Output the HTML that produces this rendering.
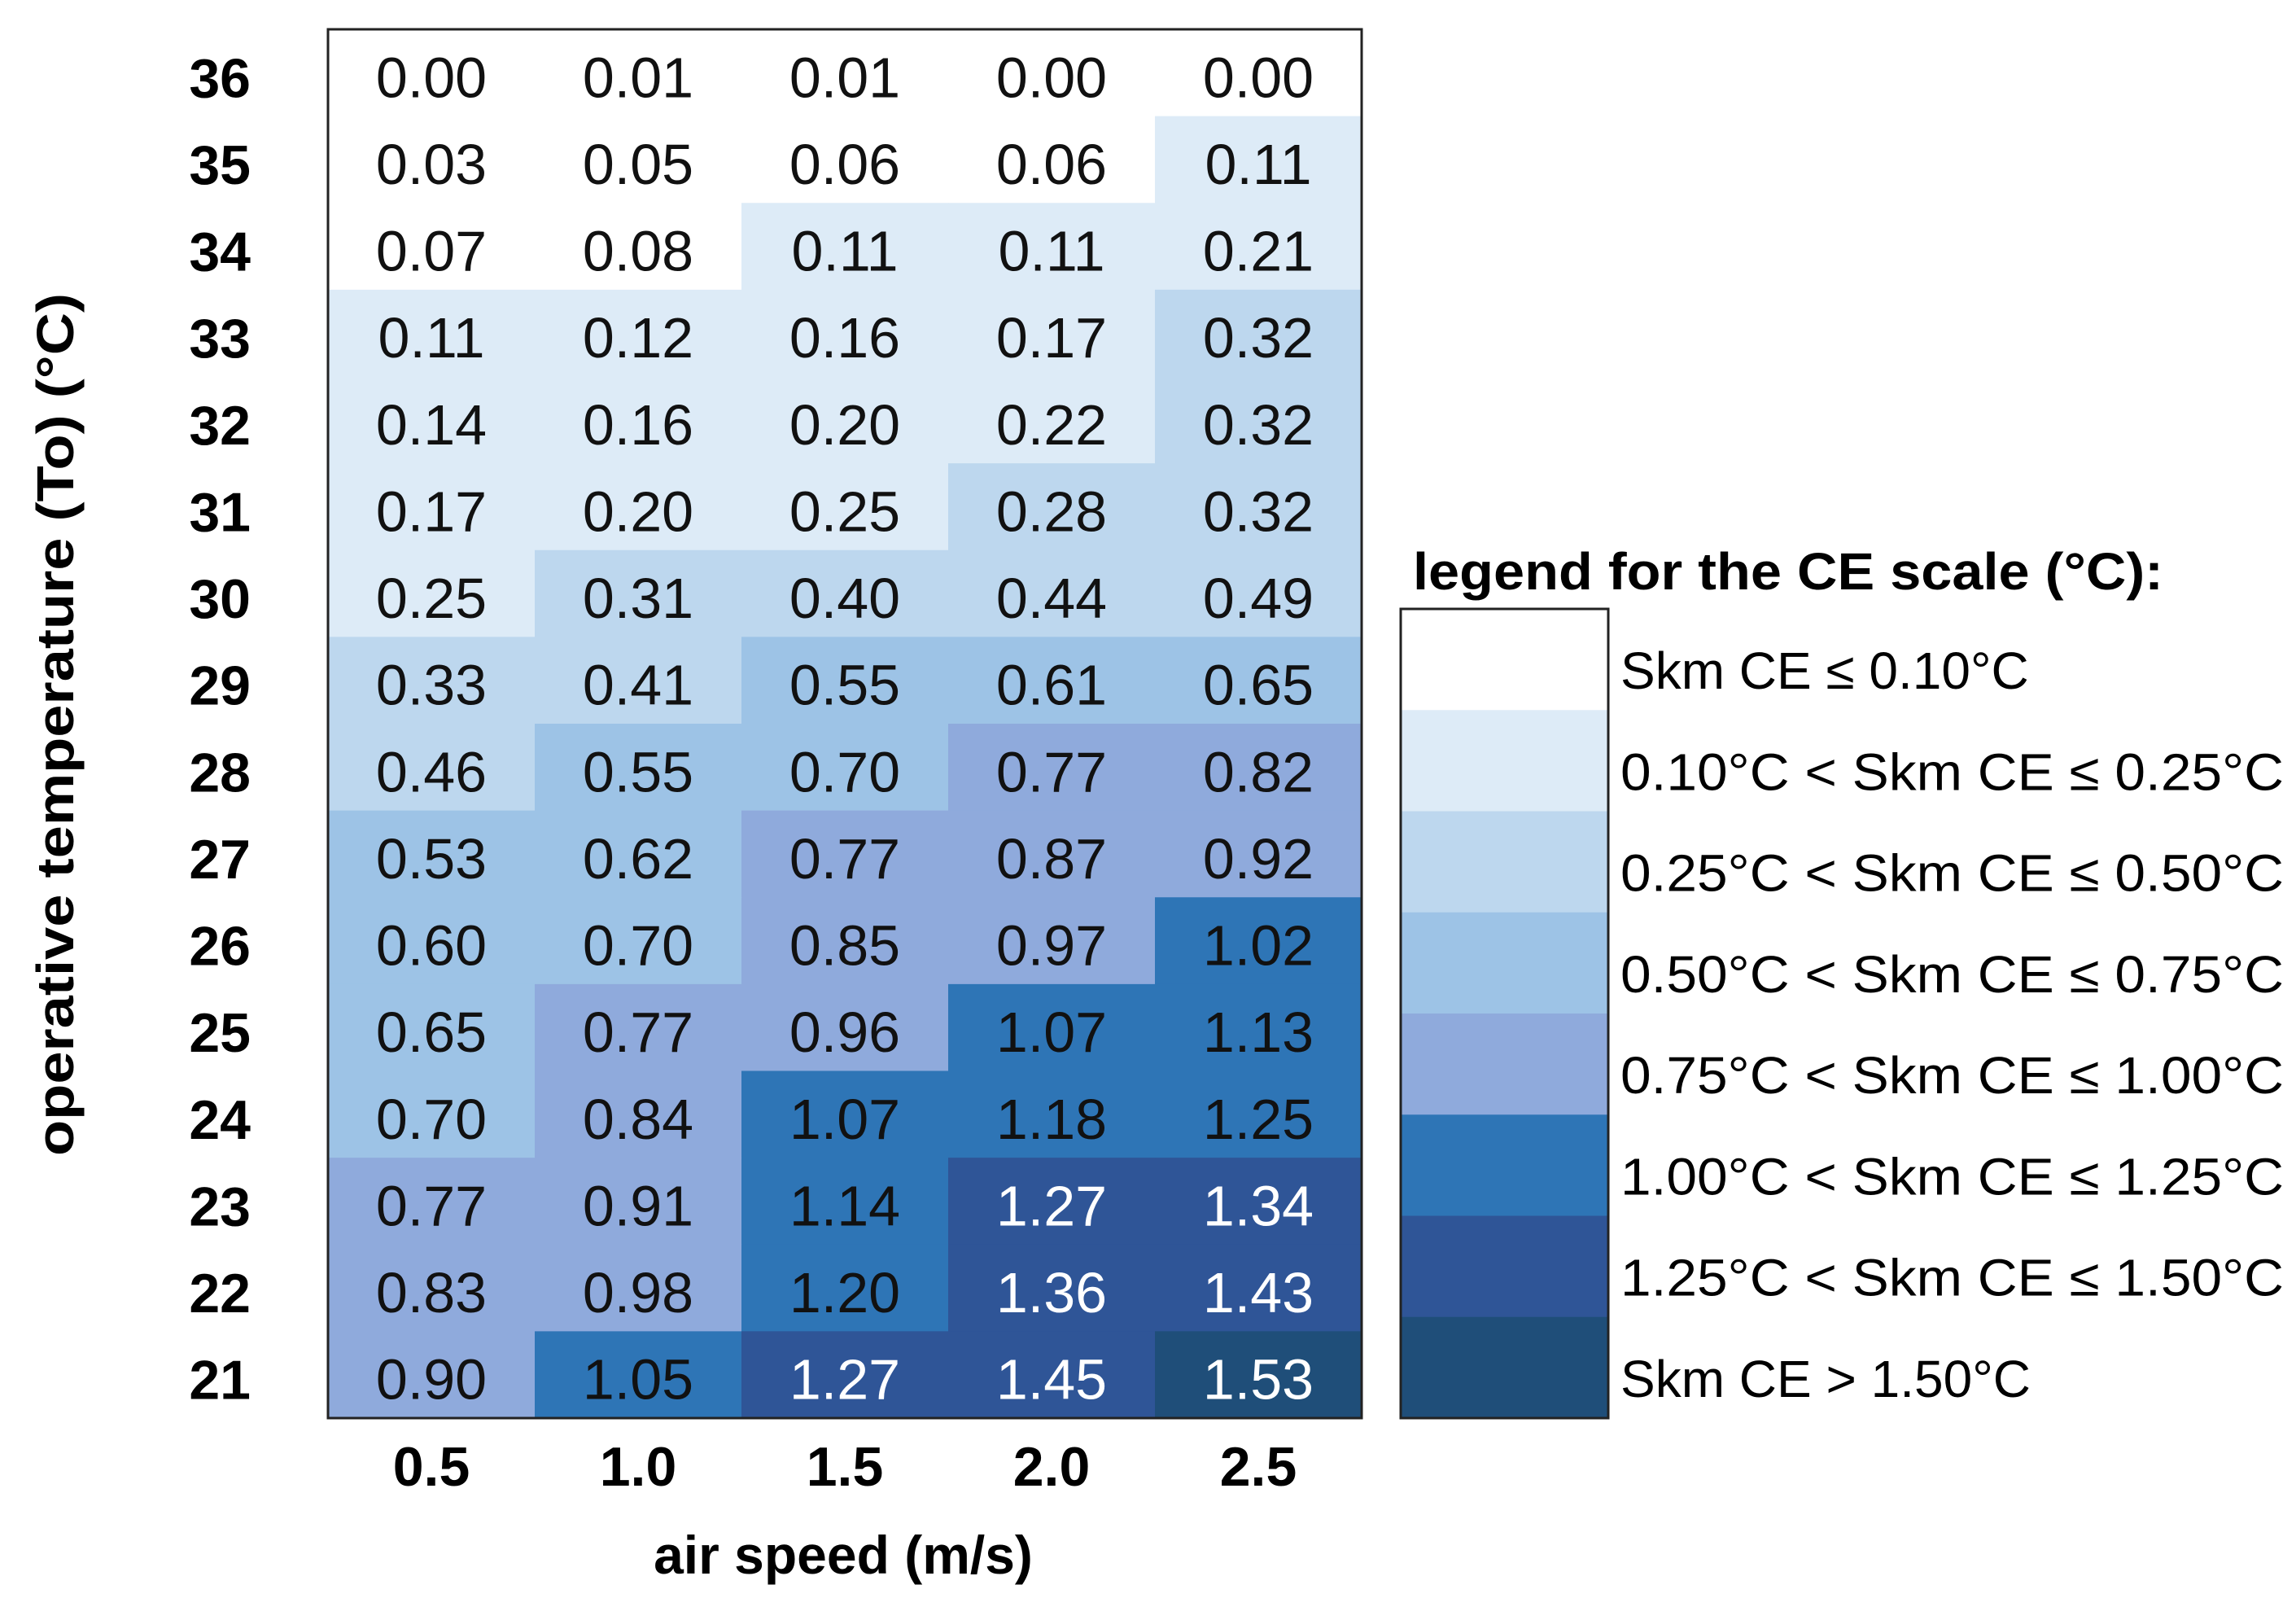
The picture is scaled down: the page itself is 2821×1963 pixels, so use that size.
<!DOCTYPE html>
<html><head><meta charset="utf-8"><style>
html,body{margin:0;padding:0;background:#fff;}
svg{display:block;font-family:"Liberation Sans",sans-serif;}
</style></head><body>
<svg id="chart" width="2821" height="1963" viewBox="0 0 2821 1963" xmlns="http://www.w3.org/2000/svg">
<rect width="2821" height="1963" fill="#fff"/>
<g id="cells"></g>
<g id="ylabels"></g>
<g id="xlabels"></g>
<rect x="403" y="36" width="1270" height="1706" fill="none" stroke="#222" stroke-width="3"/>
<text x="1036" y="1933" font-size="66" font-weight="bold" text-anchor="middle">air speed (m/s)</text>
<text transform="translate(90,890) rotate(-90)" font-size="64" font-weight="bold" text-anchor="middle" textLength="1060" lengthAdjust="spacingAndGlyphs">operative temperature (To) (°C)</text>
<text x="1736" y="724" font-size="64" font-weight="bold" textLength="922" lengthAdjust="spacingAndGlyphs">legend for the CE scale (°C):</text>
<g id="legend"></g>
<rect x="1721" y="748" width="255" height="994" fill="none" stroke="#222" stroke-width="3"/>
</svg>
<script>
const speeds = ["0.5","1.0","1.5","2.0","2.5"];
const temps = ["36","35","34","33","32","31","30","29","28","27","26","25","24","23","22","21"];
const ce36 = [0.00,0.01,0.01,0.00,0.00];
const ce35 = [0.03,0.05,0.06,0.06,0.11];
const ce34 = [0.07,0.08,0.11,0.11,0.21];
const ce33 = [0.11,0.12,0.16,0.17,0.32];
const ce32 = [0.14,0.16,0.20,0.22,0.32];
const ce31 = [0.17,0.20,0.25,0.28,0.32];
const ce30 = [0.25,0.31,0.40,0.44,0.49];
const ce29 = [0.33,0.41,0.55,0.61,0.65];
const ce28 = [0.46,0.55,0.70,0.77,0.82];
const ce27 = [0.53,0.62,0.77,0.87,0.92];
const ce26 = [0.60,0.70,0.85,0.97,1.02];
const ce25 = [0.65,0.77,0.96,1.07,1.13];
const ce24 = [0.70,0.84,1.07,1.18,1.25];
const ce23 = [0.77,0.91,1.14,1.27,1.34];
const ce22 = [0.83,0.98,1.20,1.36,1.43];
const ce21 = [0.90,1.05,1.27,1.45,1.53];
const values = [ce36,ce35,ce34,ce33,ce32,ce31,ce30,ce29,ce28,ce27,ce26,ce25,ce24,ce23,ce22,ce21];
const thresholds = [0.10,0.25,0.50,0.75,1.00,1.25,1.50];
const legendLabels = ["Skm CE ≤ 0.10°C","0.10°C < Skm CE ≤ 0.25°C","0.25°C < Skm CE ≤ 0.50°C","0.50°C < Skm CE ≤ 0.75°C","0.75°C < Skm CE ≤ 1.00°C","1.00°C < Skm CE ≤ 1.25°C","1.25°C < Skm CE ≤ 1.50°C","Skm CE > 1.50°C"];

const colors = ["#ffffff","#ddebf7","#bdd7ee","#9dc3e6","#8faadc","#2e75b6","#2f5597","#1f4e79"];
const NS = "http://www.w3.org/2000/svg";
const X0 = 403, X1 = 1673, Y0 = 36, Y1 = 1742;
const cw = (X1 - X0) / speeds.length, ch = (Y1 - Y0) / temps.length;
const xPos = i => X0 + i * cw;
const yPos = j => Y0 + j * ch;
function level(v){ let l = 0; while (l < thresholds.length && v > thresholds[l] + 1e-9) l++; return l; }
function mk(tag, attrs, parent){ const e = document.createElementNS(NS, tag); for (const k in attrs) e.setAttribute(k, attrs[k]); parent.appendChild(e); return e; }

const cells = document.getElementById('cells');
values.forEach((row, j) => {
  row.forEach((v, i) => {
    const lv = level(v);
    const r = mk('rect', {x: xPos(i), y: yPos(j), width: cw + 0.5, height: ch + 0.5, fill: colors[lv]}, cells);
    
    
    const t = mk('text', {x: xPos(i) + cw / 2, y: yPos(j) + ch / 2 + 30, 'font-size': 70, 'text-anchor': 'middle', fill: lv >= 6 ? '#fff' : '#111'}, cells);
    
    
    t.textContent = v.toFixed(2);
  });
});
const yl = document.getElementById('ylabels');
temps.forEach((tp, j) => {
  const t = mk('text', {x: 308, y: yPos(j) + ch / 2 + 30, 'font-size': 68, 'font-weight': 'bold', 'text-anchor': 'end'}, yl);
  
  
  t.textContent = tp;
});
const xl = document.getElementById('xlabels');
speeds.forEach((s, i) => {
  const t = mk('text', {x: xPos(i) + cw / 2, y: 1825, 'font-size': 68, 'font-weight': 'bold', 'text-anchor': 'middle'}, xl);
  
  
  t.textContent = s;
});
const lg = document.getElementById('legend');
const LY0 = 748, LY1 = 1742, lh = (LY1 - LY0) / legendLabels.length;
legendLabels.forEach((lab, k) => {
  const r = mk('rect', {x: 1721, y: LY0 + k * lh, width: 255, height: lh + 0.5, fill: colors[k]}, lg);
  
  
  const t = mk('text', {x: 1991, y: LY0 + k * lh + lh / 2 + 36, 'font-size': 64}, lg);
  
  
  if (k > 0 && k < 7) { t.setAttribute('textLength', 815); t.setAttribute('lengthAdjust', 'spacingAndGlyphs'); }
  t.textContent = lab;
});
</script>
</body></html>
